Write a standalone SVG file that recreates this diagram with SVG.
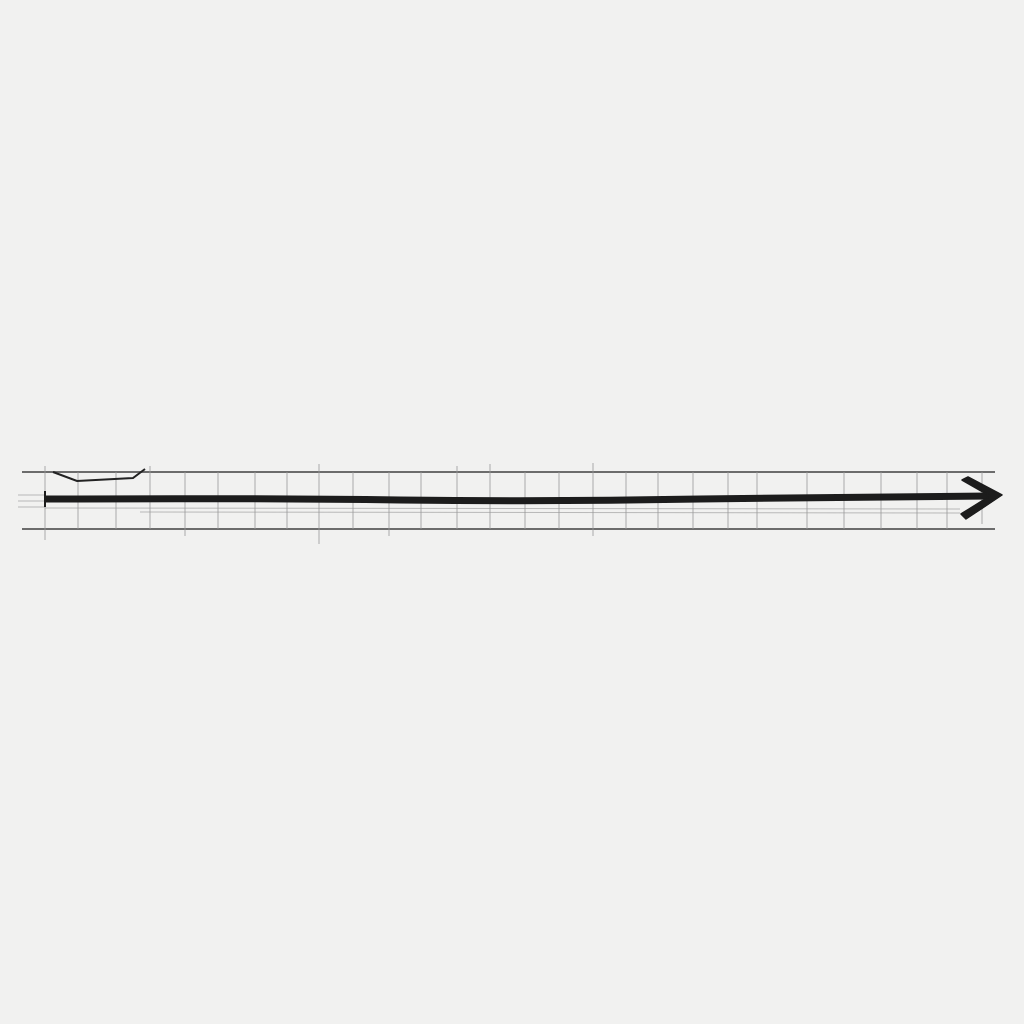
<svg xmlns="http://www.w3.org/2000/svg" width="1024" height="1024" viewBox="0 0 1024 1024">
<style>
.rail{stroke:#555;stroke-width:1.8;fill:none;opacity:.85}
.grid{stroke:#999;stroke-width:1;fill:none;opacity:.8}
.faint{stroke:#aaa;stroke-width:1;fill:none;opacity:.8}
.main{stroke:#1c1c1c;stroke-width:7;fill:none;stroke-linecap:butt}
</style>
<rect width="1024" height="1024" fill="#f1f1f0"/>
<g id="track">
<line class="rail" x1="22" y1="472" x2="995" y2="472"/>
<line class="rail" x1="22" y1="529" x2="995" y2="529"/>
<line class="faint" x1="45" y1="508" x2="960" y2="509"/>
<line class="faint" x1="140" y1="512" x2="960" y2="513"/>
<line class="faint" x1="18" y1="495" x2="45" y2="495"/>
<line class="faint" x1="18" y1="501" x2="45" y2="501"/>
<line class="faint" x1="18" y1="507" x2="45" y2="507"/>
<g class="grid">
<path d="M45 466V540M78 472V529M116 472V529M150 466V529M185 472V536M218 472V529M255 472V529M287 472V529M319 464V544M353 472V529M389 472V536M421 472V529M457 466V529M490 464V529M525 472V529M559 472V529M593 463V536M626 472V529M658 472V529M693 472V529M728 472V529M757 472V529M807 472V529M844 472V529M881 472V529M917 472V529M947 472V529M982 472V524"/>
</g>
<path d="M53 472 L77 481 L133 478 L145 469" stroke="#222" stroke-width="2" fill="none"/>
</g>
<g id="connectors">
<path class="main" d="M45 499 Q250 498 400 500 T700 499 L990 496"/>
<line x1="45" y1="491" x2="45" y2="507" stroke="#1c1c1c" stroke-width="2"/>
<path d="M962 480 L968 477 L1002 495 L966 519 L961 514 L990 496 Z" fill="#1c1c1c" stroke="#1c1c1c" stroke-width="1.5" stroke-linejoin="round"/>
</g>
</svg>
